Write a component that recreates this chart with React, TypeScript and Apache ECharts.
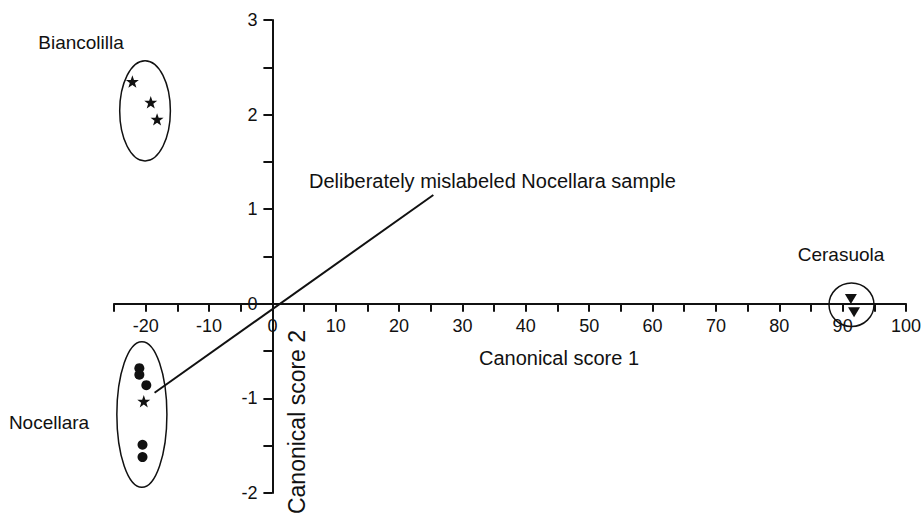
import React, { useEffect, useRef } from "react";
import * as echarts from "echarts";

// ---- data ----
const xTickMin = -25;
const xTickMax = 100;
const yTickMin = -2;
const yTickMax = 3;

const biancolillaX = [-22.1, -19.2, -18.2];
const biancolillaY = [2.35, 2.13, 1.95];

const nocellaraX = [-21.0, -21.0, -19.9, -20.5, -20.5];
const nocellaraY = [-0.68, -0.75, -0.86, -1.49, -1.62];

const mislabeledX = [-20.3];
const mislabeledY = [-1.03];

const cerasuolaX = [91.3, 91.8];
const cerasuolaY = [0.05, -0.09];

// group ellipses: centre x, centre y, radius x, radius y (in score units)
const ellipseCX = [-20.1, -20.6, 91.4];
const ellipseCY = [2.04, -1.17, -0.01];
const ellipseRX = [4.0, 3.95, 3.55];
const ellipseRY = [0.53, 0.77, 0.23];

const arrowFrom = [25.4, 1.15];
const arrowTo = [-18.6, -0.94];

const groupLabels = ["Biancolilla", "Nocellara", "Cerasuola"];
const noteText = "Deliberately mislabeled Nocellara sample";
const xName = "Canonical score 1";
const yName = "Canonical score 2";

const FONT = "'Liberation Sans', Arial, Helvetica, sans-serif";
const INK = "#111";
const STAR =
  "path://M0,-10 L2.35,-3.24 L9.51,-3.09 L3.8,1.24 L5.88,8.09 L0,4 L-5.88,8.09 L-3.8,1.24 L-9.51,-3.09 L-2.35,-3.24 Z";

const zip = (xs: number[], ys: number[]) => xs.map((x, i) => [x, ys[i]]);

// grid geometry
const GL = 114;
const GR = 17;
const GT = 20;
const GB = 22;
const W = 923;
const H = 515;

export default function App() {
  const ref = useRef<HTMLDivElement>(null);

  useEffect(() => {
    if (!ref.current) return;
    const chart = echarts.init(ref.current, undefined, { renderer: "svg" });
    // place the axes so that they cross at the origin (axes drawn through 0)
    const gw = W - GL - GR;
    const gh = H - GT - GB;
    const xZeroPx = ((0 - xTickMin) / (xTickMax - xTickMin)) * gw; // from left edge of grid
    const yZeroPx = ((0 - yTickMin) / (yTickMax - yTickMin)) * gh; // from bottom edge of grid
    const option: any = {
      animation: false,
      backgroundColor: "#fff",
      textStyle: { fontFamily: FONT },
      grid: { left: GL, right: GR, top: GT, bottom: GB, outerBoundsMode: "none" },
      xAxis: {
        type: "value",
        min: xTickMin,
        max: xTickMax,
        interval: 5,
        position: "bottom",
        offset: -yZeroPx,
        axisLine: { onZero: false, lineStyle: { color: INK, width: 2 } },
        axisTick: { length: 8, lineStyle: { color: INK, width: 2 } },
        axisLabel: {
          color: INK,
          fontSize: 18,
          fontFamily: FONT,
          margin: 13,
          formatter: (v: number) => (v % 10 === 0 ? String(v) : ""),
        },
        splitLine: { show: false },
      },
      yAxis: {
        type: "value",
        min: yTickMin,
        max: yTickMax,
        interval: 0.5,
        position: "left",
        offset: -xZeroPx,
        axisLine: { onZero: false, lineStyle: { color: INK, width: 2 } },
        axisTick: { length: 9, lineStyle: { color: INK, width: 2 } },
        axisLabel: {
          color: INK,
          fontSize: 18,
          fontFamily: FONT,
          margin: 15,
          formatter: (v: number) => (Number.isInteger(v) ? String(v) : ""),
        },
        splitLine: { show: false },
      },
      series: [
        {
          type: "custom",
          name: "groups",
          clip: false,
          silent: true,
          encode: { x: 0, y: 1 },
          data: ellipseCX.map((cx, i) => [cx, ellipseCY[i], ellipseRX[i], ellipseRY[i]]),
          renderItem: (params: any, api: any) => {
            const c = api.coord([api.value(0), api.value(1)]);
            const s = api.size([api.value(2), api.value(3)]);
            return {
              type: "ellipse",
              shape: { cx: c[0], cy: c[1], rx: s[0], ry: s[1] },
              style: { fill: "none", stroke: INK, lineWidth: 1.5 },
            };
          },
        },
        {
          type: "scatter",
          name: "Biancolilla",
          symbol: STAR,
          symbolKeepAspect: true,
          symbolSize: 13,
          itemStyle: { color: INK, opacity: 1 },
          data: zip(biancolillaX, biancolillaY),
        },
        {
          type: "scatter",
          name: "Nocellara",
          symbol: "circle",
          symbolSize: 10,
          itemStyle: { color: INK, opacity: 1 },
          data: zip(nocellaraX, nocellaraY),
        },
        {
          type: "scatter",
          name: "Mislabeled",
          symbol: STAR,
          symbolKeepAspect: true,
          symbolSize: 13,
          itemStyle: { color: INK, opacity: 1 },
          data: zip(mislabeledX, mislabeledY),
          markLine: {
            silent: true,
            symbol: ["none", "arrow"],
            symbolSize: [0, 10],
            label: { show: false },
            lineStyle: { color: INK, width: 2, type: "solid" },
            data: [[{ coord: arrowFrom }, { coord: arrowTo }]],
          },
        },
        {
          type: "scatter",
          name: "Cerasuola",
          symbol: "triangle",
          symbolRotate: 180,
          symbolSize: [12, 10],
          itemStyle: { color: INK, opacity: 1 },
          data: zip(cerasuolaX, cerasuolaY),
        },
      ],
      graphic: [
        {
          type: "text",
          x: 81,
          y: 42,
          style: { text: groupLabels[0], font: `19px ${FONT}`, fill: INK, align: "center", verticalAlign: "middle" },
        },
        {
          type: "text",
          x: 49,
          y: 422,
          style: { text: groupLabels[1], font: `19px ${FONT}`, fill: INK, align: "center", verticalAlign: "middle" },
        },
        {
          type: "text",
          x: 841,
          y: 254,
          style: { text: groupLabels[2], font: `19px ${FONT}`, fill: INK, align: "center", verticalAlign: "middle" },
        },
        {
          type: "text",
          x: 309,
          y: 181,
          style: { text: noteText, font: `20px ${FONT}`, fill: INK, align: "left", verticalAlign: "middle" },
        },
        {
          type: "text",
          x: 559,
          y: 358,
          style: { text: xName, font: `20px ${FONT}`, fill: INK, align: "center", verticalAlign: "middle" },
        },
        {
          type: "text",
          x: 297,
          y: 422,
          rotation: Math.PI / 2,
          style: { text: yName, font: `23px ${FONT}`, fill: INK, align: "center", verticalAlign: "middle" },
        },
      ],
    };
    chart.setOption(option);
    return () => chart.dispose();
  }, []);

  return (
    <div
      ref={ref}
      style={{ position: "fixed", left: 0, top: 0, width: W, height: H, background: "#fff" }}
    />
  );
}
